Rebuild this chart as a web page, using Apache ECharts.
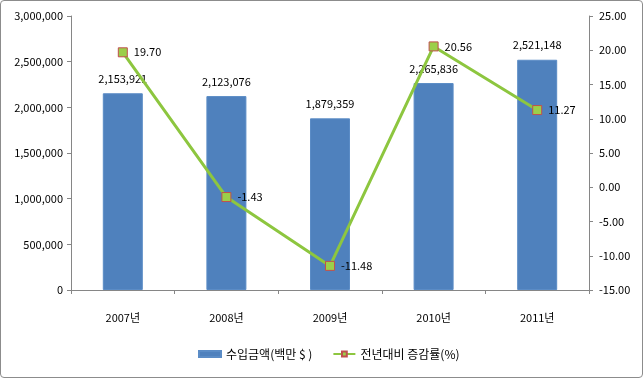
<!DOCTYPE html>
<html>
<head>
<meta charset="utf-8">
<script src="https://cdn.jsdelivr.net/npm/echarts@6/dist/echarts.min.js"></script>
<style>
  html, body { margin: 0; padding: 0; background: #fff; }
  #chart { width: 641px; height: 376px; border: 1px solid #8c8c8c; border-radius: 4px; }
</style>
</head>
<body>
<div id="chart"></div>
<script>
const categories = ['2007년', '2008년', '2009년', '2010년', '2011년'];
const importAmount = [2153921, 2123076, 1879359, 2265836, 2521148];
const growthRate = [19.70, -1.43, -11.48, 20.56, 11.27];

const font = '"Malgun Gothic", "Noto Sans CJK KR", "DejaVu Sans", sans-serif';

const chart = echarts.init(document.getElementById('chart'));
const option = {
    animation: false,
    textStyle: { fontFamily: font },
    grid: { left: 70, right: 53, top: 15, bottom: 87, containLabel: false },
    legend: {
        bottom: 12,
        left: 192,
        itemGap: 20,
        itemWidth: 22,
        itemHeight: 6,
        textStyle: { fontSize: 12, color: '#000', fontFamily: font },
        data: [
            { name: '수입금액(백만 $ )', icon: 'rect' },
            { name: '전년대비 증감률(%)' }
        ]
    },
    xAxis: {
        type: 'category',
        data: categories,
        axisLine: { lineStyle: { color: '#868686' } },
        axisTick: { show: true, length: 4, alignWithLabel: false, lineStyle: { color: '#868686' } },
        axisLabel: { color: '#000', fontSize: 11, margin: 22 }
    },
    yAxis: [
        {
            type: 'value',
            min: 0, max: 3000000, interval: 500000,
            axisLine: { show: true, lineStyle: { color: '#868686' } },
            axisTick: { show: true, length: 4, lineStyle: { color: '#868686' } },
            splitLine: { show: false },
            axisLabel: {
                color: '#000', fontSize: 11, margin: 8,
                formatter: v => v.toLocaleString('en-US')
            }
        },
        {
            type: 'value',
            min: -15, max: 25, interval: 5,
            position: 'right',
            axisLine: { show: true, lineStyle: { color: '#868686' } },
            axisTick: { show: true, length: 4, lineStyle: { color: '#868686' } },
            splitLine: { show: false },
            axisLabel: {
                color: '#000', fontSize: 11, margin: 10,
                formatter: v => v.toFixed(2)
            }
        }
    ],
    series: [
        {
            name: '수입금액(백만 $ )',
            type: 'bar',
            data: importAmount,
            barWidth: 40,
            itemStyle: { color: '#4F81BD', borderColor: '#5b8cc6', borderWidth: 1 },
            label: {
                show: true, position: 'top', distance: 9,
                color: '#000', fontSize: 11,
                formatter: p => p.value.toLocaleString('en-US')
            }
        },
        {
            name: '전년대비 증감률(%)',
            type: 'line',
            yAxisIndex: 1,
            data: growthRate,
            symbol: 'rect',
            symbolSize: 9,
            lineStyle: { color: '#8DC63F', width: 3 },
            itemStyle: { color: '#9BCF4A', borderColor: '#C0504D', borderWidth: 1 },
            label: {
                show: true, position: 'right', distance: 6,
                color: '#000', fontSize: 11,
                formatter: p => p.value.toFixed(2)
            },
            z: 5
        }
    ]
};
chart.setOption(option);
</script>
</body>
</html>
